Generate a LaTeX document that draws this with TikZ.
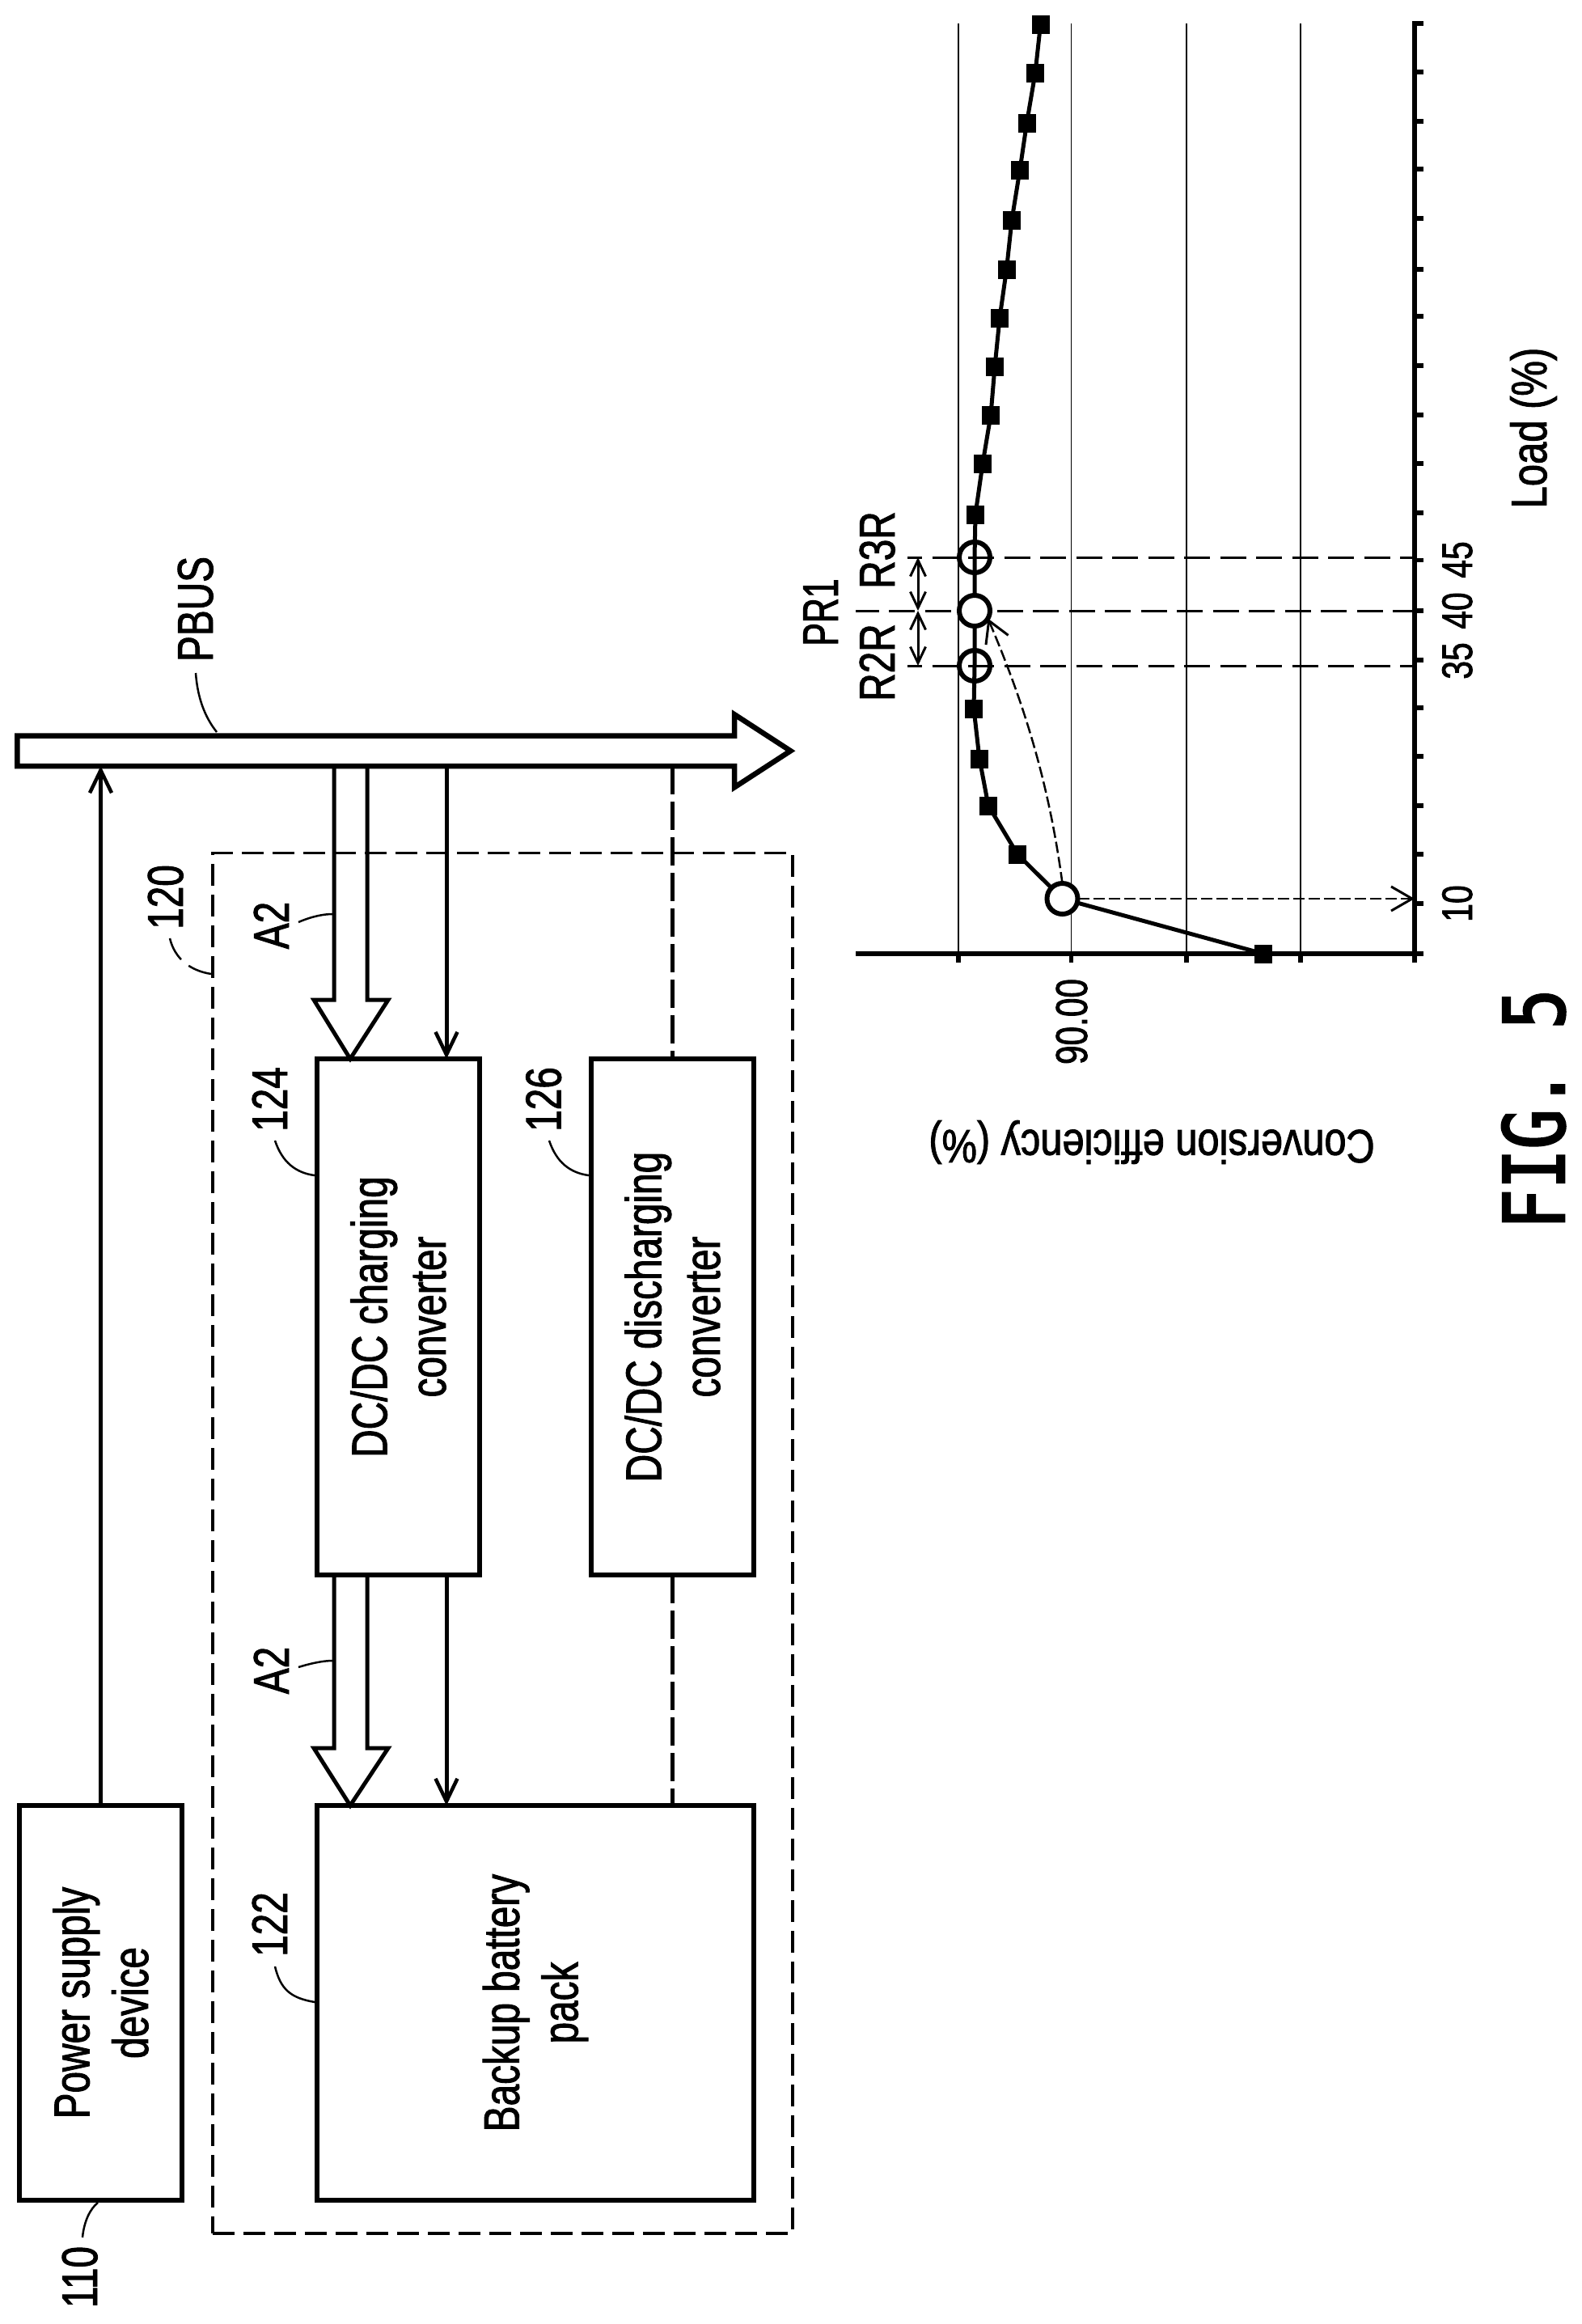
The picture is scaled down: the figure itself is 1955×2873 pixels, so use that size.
\documentclass[tikz,border=0pt]{standalone}
\usepackage{fontspec}
\usetikzlibrary{arrows.meta,shapes.arrows}
\newfontfamily\lf[FakeStretch=.77,FakeBold=1.5]{Liberation Sans}
\newfontfamily\lfw[FakeStretch=.84,FakeBold=1.5]{Liberation Sans}
\newfontfamily\lfm[FakeStretch=.79,FakeBold=1.5]{Liberation Sans}
\newfontfamily\lfn[FakeStretch=.69,FakeBold=1.5]{Liberation Sans}
\newfontfamily\figf[FakeStretch=.79,FakeBold=2.5]{DejaVu Sans Mono}
\tikzset{
  box/.style={draw,line width=6.5pt,rotate=90,align=center,inner sep=0pt,outer sep=0pt,line join=miter,
    font=\lf\fontsize{62}{72.6}\selectfont},
  lab/.style={rotate=90,anchor=base,inner sep=0pt,outer sep=0pt,font=\lf\fontsize{62}{72}\selectfont},
  tick lab/.style={lab,font=\lf\fontsize{53}{60}\selectfont},
  wire/.style={line width=5pt},
  thinarrow/.style={wire,-{Straight Barb[length=28pt,width=27pt,line width=4.5pt]}},
  dashwire/.style={line width=4.5pt,dash pattern=on 35pt off 9pt},
  groupbox/.style={draw,line width=3.5pt,dash pattern=on 27pt off 11pt,inner sep=0pt,outer sep=0pt},
  leader/.style={line width=2.5pt},
  grid line/.style={line width=1.1pt},
  axis/.style={line width=6.5pt},
  tickmark/.style={line width=5.5pt},
  curveline/.style={line width=5pt},
  sq/.style={fill=black,inner sep=0pt,outer sep=0pt,minimum width=22pt,minimum height=23pt},
  circ/.style={circle,draw,line width=6pt,inner sep=0pt,outer sep=0pt,minimum size=38pt},
  guide/.style={line width=3pt,dash pattern=on 32pt off 12.5pt},
  fine dash/.style={line width=2.5pt,dash pattern=on 14pt off 5pt},
  finebarb/.style={-{Straight Barb[length=26pt,width=30pt,line width=3pt]}},
  span/.style={line width=3pt,{Straight Barb[length=20pt,width=19pt,line width=3pt]}-{Straight Barb[length=20pt,width=19pt,line width=3pt]}}
}
\begin{document}
\begin{tikzpicture}[x=1pt,y=-1pt]
\useasboundingbox (0,0) rectangle (1955,2873);
\fill[white] (0,0) rectangle (1955,2873);

% group box
\node[groupbox,minimum width=717pt,minimum height=1706.5pt] (g120) at (621.5,1907.75) {};

% bus
\node[draw,fill=white,single arrow,line width=6.5pt,line join=miter,outer sep=0pt,inner xsep=0pt,inner ysep=15.5pt,
  minimum height=956pt,single arrow head extend=26.25pt,single arrow tip angle=66,single arrow head indent=0pt] (bus) at (485,928.25) {};

% boxes
\node[box,minimum width=488pt,minimum height=201pt] (p110) at (124.5,2476) {Power supply\\device};
\node[box,minimum width=488pt,minimum height=540pt] (b122) at (662,2476) {Backup battery\\pack};
\node[box,minimum width=638pt,minimum height=201pt] (c124) at (492.5,1628) {DC/DC charging\\converter};
\node[box,minimum width=638pt,minimum height=201pt] (c126) at (831.5,1628) {DC/DC discharging\\converter};

% x positions of the wires
\coordinate (xA) at (413,0);
\coordinate (xB) at (454,0);
\coordinate (xC) at (552,0);
\coordinate (hu) at (0,1236);
\coordinate (hl) at (0,2161);
\coordinate (hL) at (388,0);
\coordinate (hR) at (480,0);
\coordinate (hT) at (433,0);

% connectors
\draw[thinarrow] (p110.east) -- (p110.east |- bus.south);
\draw[wire,line join=miter] (xA |- bus.south) -- (xA |- hu) -- (hL |- hu) -- (hT |- c124.east) -- (hR |- hu) -- (xB |- hu) -- (xB |- bus.south);
\draw[thinarrow] (xC |- bus.south) -- (xC |- c124.east);
\draw[wire,line join=miter] (xA |- c124.west) -- (xA |- hl) -- (hL |- hl) -- (hT |- b122.east) -- (hR |- hl) -- (xB |- hl) -- (xB |- c124.west);
\draw[thinarrow] (xC |- c124.west) -- (xC |- b122.east);
\draw[dashwire] (c126.east |- bus.south) -- (c126.east);
\draw[dashwire] (c126.west) -- (c126.west |- b122.east);

% labels
\node[lab] (l110) at (120,2815) {110};
\node[lab] (l120) at (226,1109) {120};
\node[lab] (l122) at (355,2379) {122};
\node[lab] (l124) at (355,1359) {124};
\node[lab] (l126) at (693.5,1359) {126};
\node[lab] (a2u) at (357,1144) {A2};
\node[lab] (a2l) at (357,2065) {A2};
\node[lab] (pbus) at (263,753) {PBUS};

% leaders
\coordinate (e110) at (121,2723);
\coordinate (e120) at (261,1204);
\coordinate (e122) at (389,2475);
\coordinate (e124) at (389,1453);
\coordinate (e126) at (728,1453);
\coordinate (eau) at (411,1130);
\coordinate (eal) at (411,2053);
\coordinate (ebus) at (268,905);
\draw[leader] (102,2766) .. controls (104,2745) and (112,2730) .. (e110);
\draw[leader,dash pattern=on 30pt off 12pt] (210,1160) .. controls (216,1185) and (235,1200) .. (e120);
\draw[leader] (340,2431) .. controls (347,2460) and (360,2470) .. (e122);
\draw[leader] (340,1410) .. controls (349,1437) and (366,1450) .. (e124);
\draw[leader] (679,1410) .. controls (688,1437) and (705,1450) .. (e126);
\draw[leader] (369,1140) .. controls (385,1133) and (400,1130) .. (eau);
\draw[leader] (369,2061) .. controls (385,2056) and (400,2053) .. (eal);
\draw[leader] (242,832) .. controls (244,860) and (252,885) .. (ebus);

% chart grid
\foreach \gx in {1185,1324.5,1467,1608}{
  \draw[grid line] (\gx,29) -- (\gx,1179);
  \draw[tickmark] (\gx,1179) -- (\gx,1190);
}
\draw[tickmark] (1749,1179) -- (1749,1190);
\foreach \ty in {1179,1117,1056,996,935,875,816,755,692.5,634,573,513,452,391,333,270,209,150,89,29}{
  \draw[tickmark] (1749,\ty) -- (1760,\ty);
}
\coordinate (vs) at (1058,1179);
\coordinate (o) at (1749,1179);
\coordinate (lt) at (1749,26);
\draw[axis] (vs) -- (o) -- (lt);

% data points
\node[sq] (s0) at (1562,1179) {};
\node[circ,fill=white] (c10) at (1313.5,1111) {};
\node[sq] (s1) at (1258,1056) {};
\node[sq] (s2) at (1222,996) {};
\node[sq] (s3) at (1211,938) {};
\node[sq] (s4) at (1204,876) {};
\node[circ,fill=white] (c40) at (1205,755) {};
\node[sq] (s5) at (1206,636) {};
\node[sq] (s6) at (1215,573) {};
\node[sq] (s7) at (1225,513) {};
\node[sq] (s8) at (1230,453) {};
\node[sq] (s9) at (1236,393) {};
\node[sq] (s10) at (1244.5,333) {};
\node[sq] (s11) at (1251,272) {};
\node[sq] (s12) at (1261,210) {};
\node[sq] (s13) at (1269.5,152) {};
\node[sq] (s14) at (1280,90) {};
\node[sq] (s15) at (1286.5,30) {};
\coordinate (c35) at (1205,823);
\coordinate (c45) at (1205,689);
\draw[curveline] (s0.center) -- (c10) (c10) -- (s1.center) -- (s2.center) -- (s3.center) -- (s4.center) -- (c35) -- (c40) (c40) -- (c45) -- (s5.center) -- (s6.center) -- (s7.center) -- (s8.center) -- (s9.center) -- (s10.center) -- (s11.center) -- (s12.center) -- (s13.center) -- (s14.center) -- (s15.center);
\node[circ] (k35) at (c35) {};
\node[circ] (k45) at (c45) {};

% guides
\coordinate (g35) at (1122,823);
\coordinate (g40) at (1058,755);
\coordinate (g45) at (1122,689);
\draw[guide,dash phase=14pt] (g35) -- (o |- g35);
\draw[guide,dash phase=14pt] (g45) -- (o |- g45);
\draw[guide,dash phase=3.5pt] (g40) -- (c40.west);
\draw[guide,dash phase=36pt] (c40.east) -- (o |- c40);
\draw[fine dash,finebarb] (c10.east) -- (o |- c10);
\draw[fine dash,finebarb] (c10.north) .. controls (1296,960) and (1262,860) .. (c40.-30);
\coordinate (d45) at (1135,689);
\coordinate (d40) at (1135,755);
\coordinate (d35) at (1135,823);
\draw[span] (d45) -- (d40);
\draw[span] (d40) -- (d35);

% chart text
\node[lab,font=\lfn\fontsize{62}{72}\selectfont] (pr1) at (1036,757) {PR1};
\node[lab] (r2r) at (1106,819) {R2R};
\node[lab] (r3r) at (1106,680) {R3R};
\node[tick lab] (t10) at (1820,1117) {10};
\node[tick lab] (t35) at (1820,817) {35};
\node[tick lab] (t40) at (1820,755) {40};
\node[tick lab] (t45) at (1820,692) {45};
\node[lab,font=\lfm\fontsize{62}{72}\selectfont] (load) at (1912,529) {Load (\%)};
\node[lab,font=\lf\fontsize{55}{60}\selectfont] (v90) at (1344,1263) {90.00};
\node[anchor=base,rotate=180,inner sep=0pt,font=\lfw\fontsize{58}{60}\selectfont] (conv) at (1424,1397) {Conversion efficiency (\%)};
\node[lab,font=\figf\fontsize{104}{110}\selectfont] (fig) at (1934,1371) {FIG. 5};
\end{tikzpicture}
\end{document}
